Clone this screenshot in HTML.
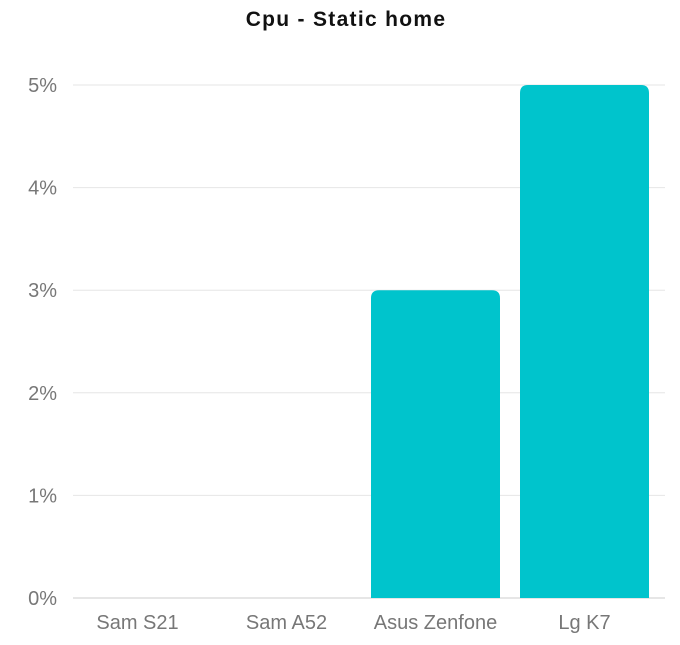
<!DOCTYPE html>
<html><head><meta charset="utf-8"><style>
body{margin:0;background:#fff;font-family:"Liberation Sans",sans-serif}
</style></head><body>
<svg width="680" height="640">
<text x="346" y="26" text-anchor="middle" font-size="21" font-weight="bold" letter-spacing="1.3" fill="#111">Cpu - Static home</text>
<g id="grid"></g><g id="bars"></g><g id="labels"></g>
</svg>
<script>
const categories=["Sam S21","Sam A52","Asus Zenfone","Lg K7"];
const values=[0,0,3,5];
const ticks=[0,1,2,3,4,5];
const ns="http://www.w3.org/2000/svg";
const y0=598,pxPer=102.6,bandStart=63,bandW=149,pad=10;
const y=v=>y0-v*pxPer;
const x=i=>bandStart+i*bandW;
const grid=document.getElementById('grid'),bars=document.getElementById('bars'),labels=document.getElementById('labels');
ticks.forEach(t=>{
 const l=document.createElementNS(ns,'line');
 
 
 l.setAttribute('x1',73);l.setAttribute('x2',665);l.setAttribute('y1',y(t));l.setAttribute('y2',y(t));
 l.setAttribute('stroke',t===0?'#ccc':'#e6e6e6');l.setAttribute('stroke-width',1);
 grid.appendChild(l);
 const tx=document.createElementNS(ns,'text');
 
 
 tx.setAttribute('x',57);tx.setAttribute('y',y(t)+7);tx.setAttribute('text-anchor','end');
 tx.setAttribute('font-size',20);tx.setAttribute('fill','#777');tx.textContent=t+'%';
 labels.appendChild(tx);
});
categories.forEach((c,i)=>{
 const v=values[i];
 if(v>0){
  const bx=x(i)+pad,w=bandW-2*pad,top=y(v),h=y0-top,r=8;
  const p=document.createElementNS(ns,'path');
  
  
  p.setAttribute('d',`M${bx},${y0}V${top+r}Q${bx},${top} ${bx+r},${top}H${bx+w-r}Q${bx+w},${top} ${bx+w},${top+r}V${y0}Z`);
  p.setAttribute('fill','#00c4cc');
  bars.appendChild(p);
 }
 const tx=document.createElementNS(ns,'text');
 
 
 tx.setAttribute('x',x(i)+bandW/2);tx.setAttribute('y',629);tx.setAttribute('text-anchor','middle');
 tx.setAttribute('font-size',20);tx.setAttribute('fill','#777');tx.textContent=c;
 labels.appendChild(tx);
});
</script>
</body></html>
